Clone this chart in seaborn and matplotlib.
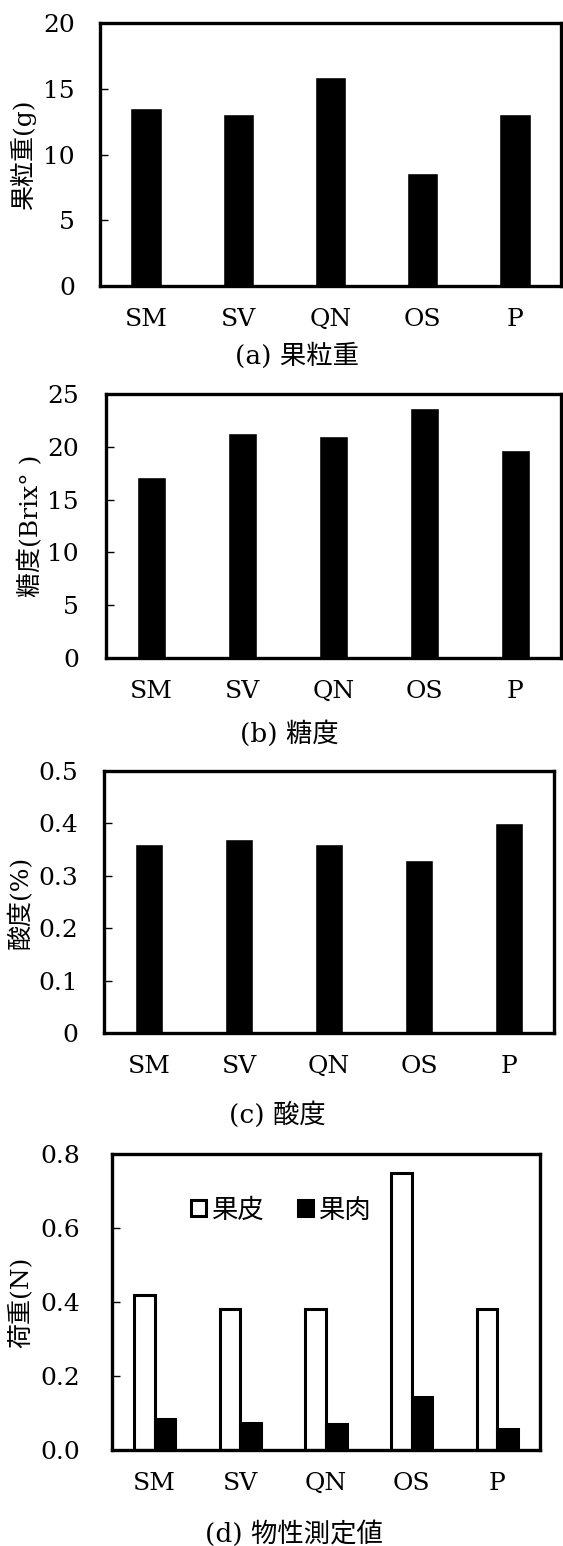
import matplotlib
matplotlib.use("Agg")
import matplotlib.pyplot as plt
import seaborn as sns
import pandas as pd

# data
cultivars = ["SM", "SV", "QN", "OS", "P"]

berry_weight = [13.5, 13.1, 15.9, 8.6, 13.1]   # g
sugar = [17.1, 21.3, 21.0, 23.7, 19.7]         # Brix
acidity = [0.36, 0.37, 0.36, 0.33, 0.40]       # %
skin_load = [0.42, 0.38, 0.38, 0.75, 0.38]     # N
flesh_load = [0.085, 0.072, 0.069, 0.142, 0.057]

parts = ["果皮", "果肉"]

weight_ticks = [0, 5, 10, 15, 20]
sugar_ticks = [0, 5, 10, 15, 20, 25]
acid_ticks = [0, 0.1, 0.2, 0.3, 0.4, 0.5]
acid_tick_labels = ["0", "0.1", "0.2", "0.3", "0.4", "0.5"]
load_ticks = [0.0, 0.2, 0.4, 0.6, 0.8]
load_tick_labels = ["0.0", "0.2", "0.4", "0.6", "0.8"]

sns.set_theme(style="white")
plt.rcParams["font.family"] = ["DejaVu Serif", "Noto Sans CJK JP"]
plt.rcParams["text.color"] = "black"
plt.rcParams["axes.labelcolor"] = "black"

W, H = 563, 1546
fig = plt.figure(figsize=(W / 100, H / 100), dpi=100)


def make_axes(left, right, top, bottom):
    # pixel box -> figure fraction
    return fig.add_axes([left / W, 1 - bottom / H, (right - left) / W, (bottom - top) / H])


def style_axes(ax, ticks, labels, ypad, label_x, ylabel):
    ax.set_ylim(ticks[0], ticks[-1])
    ax.set_yticks(ticks)
    ax.set_yticklabels(labels)
    ax.set_xlabel("")
    ax.set_ylabel(ylabel, fontsize=18)
    ax.yaxis.set_label_coords(label_x, 0.5)
    ax.tick_params(axis="y", direction="in", length=6, width=1, labelsize=18,
                   pad=ypad, left=True, colors="black")
    ax.tick_params(axis="x", length=0, labelsize=18, pad=16, colors="black")
    for sp in ax.spines.values():
        sp.set_visible(True)
        sp.set_color("black")
        sp.set_linewidth(2.4)


# (a) berry weight
ax1 = make_axes(100, 561, 23, 286)
sns.barplot(x=cultivars, y=berry_weight, color="black", saturation=1,
            width=0.34, errorbar=None, ax=ax1)
style_axes(ax1, weight_ticks, [str(t) for t in weight_ticks], 18, -0.138, "果粒重(g)")
fig.text(297 / W, 1 - 356 / H, "(a) 果粒重", ha="center", va="center", fontsize=19)

# (b) sugar
ax2 = make_axes(106, 561, 394, 658)
sns.barplot(x=cultivars, y=sugar, color="black", saturation=1,
            width=0.315, errorbar=None, ax=ax2)
style_axes(ax2, sugar_ticks, [str(t) for t in sugar_ticks], 19.4, -0.138, "糖度(Brix° )")
fig.text(289 / W, 1 - 734 / H, "(b) 糖度", ha="center", va="center", fontsize=19)

# (c) acidity
ax3 = make_axes(104, 554, 771, 1033)
sns.barplot(x=cultivars, y=acidity, color="black", saturation=1,
            width=0.315, errorbar=None, ax=ax3)
style_axes(ax3, acid_ticks, acid_tick_labels, 18.7, -0.158, "酸度(%)")
fig.text(277 / W, 1 - 1115 / H, "(c) 酸度", ha="center", va="center", fontsize=19)

# (d) skin / flesh load
df = pd.DataFrame({
    "cultivar": cultivars * 2,
    "part": [parts[0]] * len(cultivars) + [parts[1]] * len(cultivars),
    "load": skin_load + flesh_load,
})
ax4 = make_axes(112, 540, 1154, 1450)
sns.barplot(data=df, x="cultivar", y="load", hue="part",
            palette={parts[0]: "white", parts[1]: "black"}, saturation=1,
            edgecolor="black", linewidth=2.2, width=0.48, errorbar=None, ax=ax4)
style_axes(ax4, load_ticks, load_tick_labels, 23, -0.185, "荷重(N)")
handles, labels = ax4.get_legend_handles_labels()
ax4.legend(handles, labels, ncol=2, frameon=False, fontsize=19,
           handlelength=0.55, handleheight=0.55, handletextpad=0.2,
           columnspacing=1.3, borderpad=0, loc="center left",
           bbox_to_anchor=(178 / W, 1 - 1210 / H), bbox_transform=fig.transFigure)
fig.text(294 / W, 1 - 1534 / H, "(d) 物性測定値", ha="center", va="center", fontsize=19)

fig.savefig("out.png", dpi=100)
